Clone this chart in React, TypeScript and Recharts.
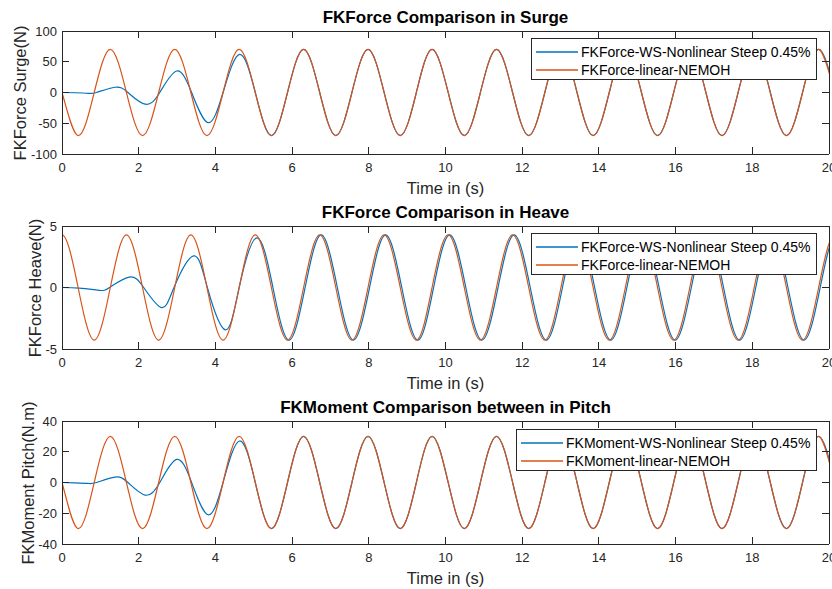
import React from "react";
import { LineChart, Line, XAxis, YAxis, Legend } from "recharts";

// tick labels
const timeTicks = [0, 2, 4, 6, 8, 10, 12, 14, 16, 18, 20];
const surgeTicks = [-100, -50, 0, 50, 100];
const heaveTicks = [-5, 0, 5];
const pitchTicks = [-40, -20, 0, 20, 40];

// linear (NEMOH) series, sampled at quarter periods (one extra sample past each edge, clipped)
const linearTime = [
  -0.42,
  0, 0.42, 0.84, 1.26, 1.68, 2.1, 2.52, 2.94, 3.36, 3.78, 4.2, 4.62,
  5.04, 5.46, 5.88, 6.3, 6.72, 7.14, 7.56, 7.98, 8.4, 8.82, 9.24, 9.65,
  10.07, 10.49, 10.91, 11.33, 11.75, 12.17, 12.59, 13.01, 13.43, 13.85, 14.27, 14.69,
  15.11, 15.53, 15.95, 16.37, 16.79, 17.21, 17.63, 18.05, 18.47, 18.89, 19.31, 19.73,
  20.15, 20.57,
];
const surgeLinear = [
  70,
  0, -70, 0, 70, 0, -70, 0, 70, 0, -70, 0, 70,
  0, -70, 0, 70, 0, -70, 0, 70, 0, -70, 0, 70,
  0, -70, 0, 70, 0, -70, 0, 70, 0, -70, 0, 70,
  0, -70, 0, 70, 0, -70, 0, 70, 0, -70, 0, 70,
  0, -70,
];
const heaveLinear = [
  0,
  4.28, 0, -4.28, 0, 4.28, 0, -4.28, 0, 4.28, 0, -4.28, 0,
  4.28, 0, -4.28, 0, 4.28, 0, -4.28, 0, 4.28, 0, -4.28, 0,
  4.28, 0, -4.28, 0, 4.28, 0, -4.28, 0, 4.28, 0, -4.28, 0,
  4.28, 0, -4.28, 0, 4.28, 0, -4.28, 0, 4.28, 0, -4.28, 0,
  4.28, 0,
];
const pitchLinear = [
  30,
  0, -30, 0, 30, 0, -30, 0, 30, 0, -30, 0, 30,
  0, -30, 0, 30, 0, -30, 0, 30, 0, -30, 0, 30,
  0, -30, 0, 30, 0, -30, 0, 30, 0, -30, 0, 30,
  0, -30, 0, 30, 0, -30, 0, 30, 0, -30, 0, 30,
  0, -30,
];

// weakly-nonlinear series (surge + pitch share timing)
const nonlinearTime = [
  0, 0.35, 0.68, 0.9, 1.38, 1.72, 2.17, 2.55, 2.99, 3.38, 3.81, 4.2, 4.63, 5.04,
  5.46, 5.88, 6.3, 6.72, 7.14, 7.56, 7.98, 8.4, 8.82, 9.24, 9.65, 10.07,
  10.49, 10.91, 11.33, 11.75, 12.17, 12.59, 13.01, 13.43, 13.85, 14.27, 14.69, 15.11,
  15.53, 15.95, 16.37, 16.79, 17.21, 17.63, 18.05, 18.47, 18.89, 19.31, 19.73, 20.15,
];
const surgeNonlinear = [
  0, -0.4, -1.3, 0, 8.5, 0, -19, 0, 35, 0, -49, 0, 62, 0,
  -70, 0, 70, 0, -70, 0, 70, 0, -70, 0, 70, 0,
  -70, 0, 70, 0, -70, 0, 70, 0, -70, 0, 70, 0,
  -70, 0, 70, 0, -70, 0, 70, 0, -70, 0, 70, 0,
];
const pitchNonlinear = [
  0, -0.2, -0.6, 0, 3.5, 0, -8.2, 0, 15, 0, -21, 0, 27, 0,
  -30, 0, 30, 0, -30, 0, 30, 0, -30, 0, 30, 0,
  -30, 0, 30, 0, -30, 0, 30, 0, -30, 0, 30, 0,
  -30, 0, 30, 0, -30, 0, 30, 0, -30, 0, 30, 0,
];
const heaveNonlinearTime = [
  0, 0.45, 0.98, 1.24, 1.75, 2.13, 2.59, 2.92, 3.43, 3.79, 4.26, 4.62, 5.08, 5.5,
  5.92, 6.34, 6.76, 7.18, 7.6, 8.02, 8.44, 8.86, 9.28, 9.69, 10.11, 10.53,
  10.95, 11.37, 11.79, 12.21, 12.63, 13.05, 13.47, 13.89, 14.31, 14.73, 15.15, 15.57,
  15.99, 16.41, 16.83, 17.25, 17.67, 18.09, 18.51, 18.93, 19.35, 19.77, 20.19, 20.61,
];
const heaveNonlinear = [
  0, -0.05, -0.23, 0, 0.85, 0, -1.63, 0, 2.57, 0, -3.44, 0, 4.03, 0,
  -4.28, 0, 4.28, 0, -4.28, 0, 4.28, 0, -4.28, 0, 4.28, 0,
  -4.28, 0, 4.28, 0, -4.28, 0, 4.28, 0, -4.28, 0, 4.28, 0,
  -4.28, 0, 4.28, 0, -4.28, 0, 4.28, 0, -4.28, 0, 4.28, 0,
];

const BLUE = "#0072BD";
const ORANGE = "#D95319";
const AXIS = "#262626";
const FONT = '"Liberation Sans", Arial, Helvetica, sans-serif';

const W = 832;
const H = 196;
const PLOT_LEFT = 62;
const PLOT_W = 767;
const PLOT_H = 123;
const TICK_LEN = 7;

const toPoints = (t: number[], v: number[]) => t.map((x, i) => ({ t: x, v: v[i] }));

function TimeTick(props: any) {
  const { x, y, payload, index } = props;
  return (
    <g>
      {index === 0 && (
        <line x1={x} y1={y - PLOT_H} x2={x + PLOT_W} y2={y - PLOT_H} stroke={AXIS} shapeRendering="crispEdges" />
      )}
      <line x1={x} y1={y} x2={x} y2={y - TICK_LEN} stroke={AXIS} shapeRendering="crispEdges" />
      <line x1={x} y1={y - PLOT_H} x2={x} y2={y - PLOT_H + TICK_LEN} stroke={AXIS} shapeRendering="crispEdges" />
      <text x={x} y={y + 13} textAnchor="middle" dominantBaseline="central" fontSize={13} fill={AXIS} fontFamily={FONT}>
        {payload.value}
      </text>
    </g>
  );
}

function ValueTick(props: any) {
  const { x, y, payload, index } = props;
  return (
    <g>
      {index === 0 && (
        <line x1={x + PLOT_W} y1={y} x2={x + PLOT_W} y2={y - PLOT_H} stroke={AXIS} shapeRendering="crispEdges" />
      )}
      <line x1={x} y1={y} x2={x + TICK_LEN} y2={y} stroke={AXIS} shapeRendering="crispEdges" />
      <line x1={x + PLOT_W} y1={y} x2={x + PLOT_W - TICK_LEN} y2={y} stroke={AXIS} shapeRendering="crispEdges" />
      <text x={x - 5} y={y} textAnchor="end" dominantBaseline="central" fontSize={13} fill={AXIS} fontFamily={FONT}>
        {payload.value}
      </text>
    </g>
  );
}

function LegendBox({ payload, width, height }: any) {
  return (
    <div
      style={{
        width,
        height,
        boxSizing: "border-box",
        border: `1px solid ${AXIS}`,
        background: "#fff",
        position: "relative",
        fontFamily: FONT,
        fontSize: 14,
        color: "#000",
      }}
    >
      {(payload || []).map((p: any, i: number) => (
        <div key={i} style={{ position: "absolute", left: 0, top: i === 0 ? 5 : 23, height: 16, width: "100%" }}>
          <svg width={44} height={16} style={{ position: "absolute", left: 3, top: 0 }}>
            <line x1={1} y1={8} x2={43} y2={8} stroke={p.color} strokeWidth={1.3} />
          </svg>
          <div style={{ position: "absolute", left: 49, top: 0, lineHeight: "16px", whiteSpace: "nowrap" }}>{p.value}</div>
        </div>
      ))}
    </div>
  );
}

type PanelProps = {
  top: number;
  title: string;
  yLabel: string;
  yLabelX: number;
  ticks: number[];
  blue: { t: number; v: number }[];
  orange: { t: number; v: number }[];
  blueName: string;
  orangeName: string;
  legendLeft: number;
  legendTop: number;
};

function Text({ x, y, size, bold, rotate, children }: any) {
  return (
    <div
      style={{
        position: "absolute",
        left: x,
        top: y,
        transform: `translate(-50%, -50%)${rotate ? " rotate(-90deg)" : ""}`,
        whiteSpace: "nowrap",
        fontFamily: FONT,
        fontSize: size,
        fontWeight: bold ? 700 : 400,
        lineHeight: 1,
        color: bold ? "#000" : AXIS,
      }}
    >
      {children}
    </div>
  );
}

function Panel(p: PanelProps) {
  const cx = PLOT_LEFT + PLOT_W / 2;
  const legendW = 817 - p.legendLeft;
  return (
    <div style={{ position: "absolute", left: 0, top: p.top, width: W, height: H }}>
      <LineChart width={W} height={H} margin={{ top: 31, right: 3, bottom: 0, left: 0 }}>
        <XAxis
          type="number"
          dataKey="t"
          domain={[0, 20]}
          ticks={timeTicks}
          interval={0}
          allowDataOverflow
          height={H - 31 - PLOT_H}
          tickSize={0}
          tickMargin={0}
          tickLine={false}
          axisLine={{ stroke: AXIS, shapeRendering: "crispEdges" }}
          tick={<TimeTick />}
        />
        <YAxis
          type="number"
          domain={[p.ticks[0], p.ticks[p.ticks.length - 1]]}
          ticks={p.ticks}
          interval={0}
          allowDataOverflow
          width={PLOT_LEFT}
          tickSize={0}
          tickMargin={0}
          tickLine={false}
          axisLine={{ stroke: AXIS, shapeRendering: "crispEdges" }}
          tick={<ValueTick />}
        />
        <Line
          data={p.blue}
          dataKey="v"
          name={p.blueName}
          type="natural"
          stroke={BLUE}
          strokeWidth={1.2}
          dot={false}
          isAnimationActive={false}
        />
        <Line
          data={p.orange}
          dataKey="v"
          name={p.orangeName}
          type="natural"
          stroke={ORANGE}
          strokeWidth={1.2}
          dot={false}
          isAnimationActive={false}
        />
        <Legend
          layout="horizontal"
          verticalAlign="middle"
          align="center"
          wrapperStyle={{ left: p.legendLeft, top: p.legendTop, width: legendW, height: 42 }}
          content={(props: any) => <LegendBox {...props} width={legendW} height={42} />}
        />
      </LineChart>
      <Text x={cx} y={16.7} size={17} bold>
        {p.title}
      </Text>
      <Text x={cx} y={188.3} size={16.5}>
        Time in (s)
      </Text>
      <Text x={p.yLabelX} y={31 + PLOT_H / 2} size={16.5} rotate>
        {p.yLabel}
      </Text>
    </div>
  );
}

export default function App() {
  return (
    <div style={{ position: "absolute", left: 0, top: 0, width: W, height: 589, background: "#fff" }}>
      <Panel
        top={0}
        title="FKForce Comparison in Surge"
        yLabel="FKForce Surge(N)"
        yLabelX={20}
        ticks={surgeTicks}
        blue={toPoints(nonlinearTime, surgeNonlinear)}
        orange={toPoints(linearTime, surgeLinear)}
        blueName="FKForce-WS-Nonlinear Steep 0.45%"
        orangeName="FKForce-linear-NEMOH"
        legendLeft={531}
        legendTop={38}
      />
      <Panel
        top={195}
        title="FKForce Comparison in Heave"
        yLabel="FKForce Heave(N)"
        yLabelX={35}
        ticks={heaveTicks}
        blue={toPoints(heaveNonlinearTime, heaveNonlinear)}
        orange={toPoints(linearTime, heaveLinear)}
        blueName="FKForce-WS-Nonlinear Steep 0.45%"
        orangeName="FKForce-linear-NEMOH"
        legendLeft={531}
        legendTop={38}
      />
      <Panel
        top={390}
        title="FKMoment Comparison between in Pitch"
        yLabel="FKMoment Pitch(N.m)"
        yLabelX={27.5}
        ticks={pitchTicks}
        blue={toPoints(nonlinearTime, pitchNonlinear)}
        orange={toPoints(linearTime, pitchLinear)}
        blueName="FKMoment-WS-Nonlinear Steep 0.45%"
        orangeName="FKMoment-linear-NEMOH"
        legendLeft={516}
        legendTop={39}
      />
    </div>
  );
}
